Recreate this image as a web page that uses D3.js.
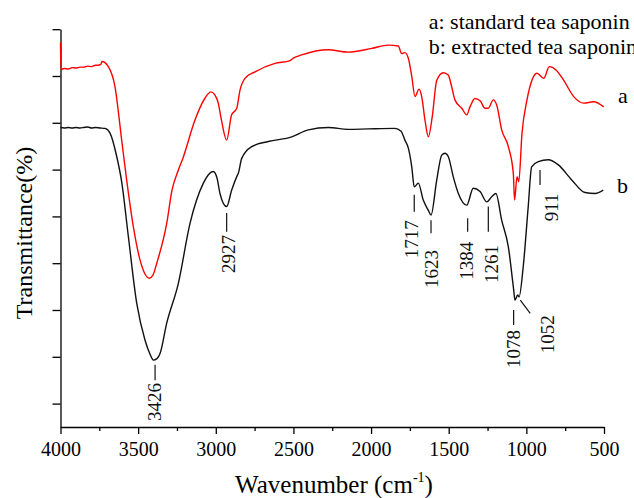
<!DOCTYPE html>
<html>
<head>
<meta charset="utf-8">
<script src="https://cdn.jsdelivr.net/npm/d3@7"></script>
<style>
  body { margin: 0; background: #fff; }
  svg { display: block; }
</style>
</head>
<body>
<div id="chart"></div>
<script>
// Spectrum a: standard tea saponin  (wavenumber cm-1, transmittance arb.)
const waveA = [4000, 3997, 3975, 3950, 3925, 3900, 3875, 3850, 3825, 3800, 3775, 3759, 3740, 3733, 3692, 3649, 3606, 3574, 3531, 3488, 3456, 3428, 3404, 3380, 3316, 3282, 3241, 3211, 3134, 3069, 3031, 3005, 2984, 2966, 2930, 2898, 2865, 2844, 2812, 2747, 2619, 2522, 2501, 2447, 2275, 2147, 1996, 1889, 1825, 1803, 1782, 1760, 1738, 1717, 1691, 1674, 1653, 1631, 1606, 1577, 1535, 1503, 1481, 1460, 1416, 1384, 1363, 1331, 1298, 1266, 1245, 1213, 1191, 1159, 1116, 1084, 1076, 1060, 1049, 1028, 996, 964, 932, 888, 852, 809, 760, 695, 631, 567, 502];
const transA = [82.1, 76.4, 76.6, 76.5, 76.8, 76.7, 76.9, 76.9, 77.1, 77.0, 77.3, 77.3, 77.5, 78.1, 77.0, 72.7, 61.3, 52.8, 42.8, 35.7, 32.7, 31.8, 32.5, 35.0, 43.5, 50.6, 54.9, 57.5, 65.6, 70.3, 71.6, 70.9, 69.2, 66.0, 61.3, 66.7, 68.1, 72.0, 74.5, 75.9, 77.7, 78.3, 78.8, 79.5, 80.6, 80.1, 80.9, 81.6, 81.4, 79.8, 80.0, 78.8, 74.9, 70.6, 72.2, 70.6, 65.6, 62.0, 66.3, 74.1, 75.7, 75.2, 72.7, 69.9, 68.1, 66.7, 68.4, 70.2, 69.7, 68.1, 68.1, 69.9, 68.8, 63.5, 59.9, 54.2, 48.5, 53.5, 52.4, 62.8, 69.9, 74.1, 75.6, 74.5, 77.0, 76.3, 74.1, 70.6, 69.2, 69.5, 68.4];

// Spectrum b: extracted tea saponin
const waveB = [4000, 3975, 3950, 3925, 3900, 3875, 3850, 3825, 3800, 3775, 3746, 3713, 3681, 3638, 3606, 3563, 3509, 3456, 3424, 3402, 3379, 3359, 3316, 3241, 3166, 3080, 3050, 3016, 2992, 2973, 2930, 2898, 2865, 2855, 2833, 2769, 2662, 2511, 2404, 2275, 2147, 2018, 1846, 1807, 1782, 1760, 1738, 1722, 1696, 1664, 1633, 1614, 1577, 1545, 1524, 1503, 1471, 1438, 1384, 1342, 1298, 1255, 1223, 1196, 1159, 1116, 1084, 1073, 1056, 1047, 1020, 988, 966, 923, 859, 794, 708, 622, 557, 505];
const transB = [64.0, 63.9, 64.0, 63.9, 64.0, 63.9, 64.0, 64.1, 63.9, 64.0, 63.9, 63.8, 62.8, 57.8, 52.4, 40.7, 26.4, 18.6, 15.6, 14.3, 14.6, 15.7, 22.2, 30.7, 43.5, 52.1, 53.8, 54.6, 53.2, 49.9, 47.1, 50.6, 53.5, 54.2, 57.4, 59.9, 61.0, 62.0, 63.5, 64.0, 63.6, 63.7, 63.8, 63.2, 61.3, 59.6, 55.6, 51.3, 52.1, 48.5, 46.4, 45.3, 52.8, 58.1, 58.5, 57.8, 53.5, 49.9, 47.4, 51.0, 50.3, 48.1, 49.2, 49.9, 44.2, 38.5, 30.0, 27.1, 28.2, 27.8, 34.3, 47.1, 55.6, 56.7, 57.1, 56.0, 52.8, 50.1, 49.9, 50.6];

// Axis ticks
const xMajorTicks = [4000, 3500, 3000, 2500, 2000, 1500, 1000, 500];
const xMinorTicks = [3750, 3250, 2750, 2250, 1750, 1250, 750];
const yTicks = [5, 15, 25, 35, 45, 55, 65, 75, 85];

// Peak labels on curve b
const peakLabels = ["3426", "2927", "1717", "1623", "1384", "1261", "1078", "1052", "911"];
// marker placement (wavenumber of marker, marker top/bottom, text centre, text top)
const peakMarkWn   = [3391, 2930, 1722, 1614, 1378, 1245, 1082, 1039, 912];
const peakMarkTop  = [13.3, 45.7, 49.6, 44.2, 44.6, 47.1, 25.0, 27.1, 54.9];
const peakMarkBot  = [10.0, 41.7, 46.0, 41.4, 41.7, 41.7, 21.8, 24.3, 51.7];
const peakMarkEnd  = [3391, 2930, 1722, 1614, 1378, 1245, 1082, 975, 912];
const peakTextWn   = [3398, 2921, 1738, 1614, 1384, 1223, 1085, 867, 837];
const peakTextTop  = [9.4, 41.0, 44.2, 37.8, 39.6, 38.9, 20.7, 23.9, 49.9];

const legendLines = ["a: standard tea saponin", "b: extracted tea saponin"];

const width = 634, height = 498;
const margin = { top: 29.2, right: 30, bottom: 71, left: 60.5 };
const serif = "'Times New Roman', 'Liberation Serif', 'DejaVu Serif', serif";

const x = d3.scaleLinear().domain([4000, 500]).range([margin.left, 604]);
const y = d3.scaleLinear().domain([0, 85]).range([height - margin.bottom, margin.top]);

const svg = d3.select("#chart").append("svg")
  .attr("width", width)
  .attr("height", height)
  .attr("viewBox", [0, 0, width, height])
  .style("font-family", serif);

// X axis: major + minor ticks
const xAxisG = svg.append("g")
  .attr("transform", `translate(0,${y(0)})`)
  .call(d3.axisBottom(x).tickValues(xMajorTicks).tickSize(7).tickSizeOuter(0).tickPadding(8).tickFormat(d3.format("d")));
xAxisG.selectAll("text").attr("font-size", 20).attr("font-family", serif).attr("fill", "#000");
xAxisG.select(".domain").attr("stroke-width", 1.3);
xAxisG.selectAll(".tick line").attr("stroke-width", 1.3);

svg.append("g")
  .attr("transform", `translate(0,${y(0)})`)
  .call(d3.axisBottom(x).tickValues(xMinorTicks).tickSize(4).tickSizeOuter(0).tickFormat(""))
  .call(g => g.select(".domain").remove())
  .selectAll(".tick line").attr("stroke-width", 1.3);

// Y axis: ticks only, no labels
svg.append("g")
  .attr("transform", `translate(${margin.left},0)`)
  .call(d3.axisLeft(y).tickValues(yTicks).tickSize(8).tickSizeOuter(0).tickFormat(""))
  .call(g => g.select(".domain").attr("stroke-width", 1.3))
  .selectAll(".tick line").attr("stroke-width", 1.3);

// Spectra
const line = d3.line()
  .x(d => x(d[0]))
  .y(d => y(d[1]))
  .curve(d3.curveMonotoneX);

svg.append("path")
  .datum(d3.zip(waveA, transA))
  .attr("fill", "none")
  .attr("stroke", "#ff0000")
  .attr("stroke-width", 1.4)
  .attr("d", line);

svg.append("path")
  .datum(d3.zip(waveB, transB))
  .attr("fill", "none")
  .attr("stroke", "#111")
  .attr("stroke-width", 1.4)
  .attr("d", line);

// Peak markers and labels
const peakFont = 19;
peakLabels.forEach((label, i) => {
  svg.append("line")
    .attr("x1", x(peakMarkWn[i])).attr("y1", y(peakMarkTop[i]))
    .attr("x2", x(peakMarkEnd[i])).attr("y2", y(peakMarkBot[i]))
    .attr("stroke", "#111").attr("stroke-width", 1.2);

  const tx = x(peakTextWn[i]) + peakFont * 0.35;
  const ty = y(peakTextTop[i]);
  svg.append("text")
    .attr("transform", `translate(${tx},${ty}) rotate(-90)`)
    .attr("text-anchor", "end")
    .attr("font-size", peakFont)
    .attr("fill", "#111")
    .text(label);
});

// Curve tags
svg.append("text").attr("x", 618).attr("y", 103).attr("font-size", 22).text("a");
svg.append("text").attr("x", 617).attr("y", 193).attr("font-size", 22).text("b");

// Legend text (the reference crops the last letter at the edge)
svg.selectAll(".legend")
  .data(legendLines)
  .join("text")
  .attr("class", "legend")
  .attr("x", 428.7)
  .attr("y", (d, i) => 29 + i * 24.5)
  .attr("font-size", 22)
  .text(d => d);

// Axis titles
const xTitle = svg.append("text")
  .attr("x", 334)
  .attr("y", 493)
  .attr("text-anchor", "middle")
  .attr("font-size", 25);
xTitle.append("tspan").text("Wavenumber (cm");
xTitle.append("tspan").attr("font-size", 14).attr("dy", -11).text("-1");
xTitle.append("tspan").attr("dy", 11).text(")");

svg.append("text")
  .attr("transform", `translate(32,233) rotate(-90)`)
  .attr("text-anchor", "middle")
  .attr("font-size", 24)
  .text("Transmittance(%)");
</script>
</body>
</html>
